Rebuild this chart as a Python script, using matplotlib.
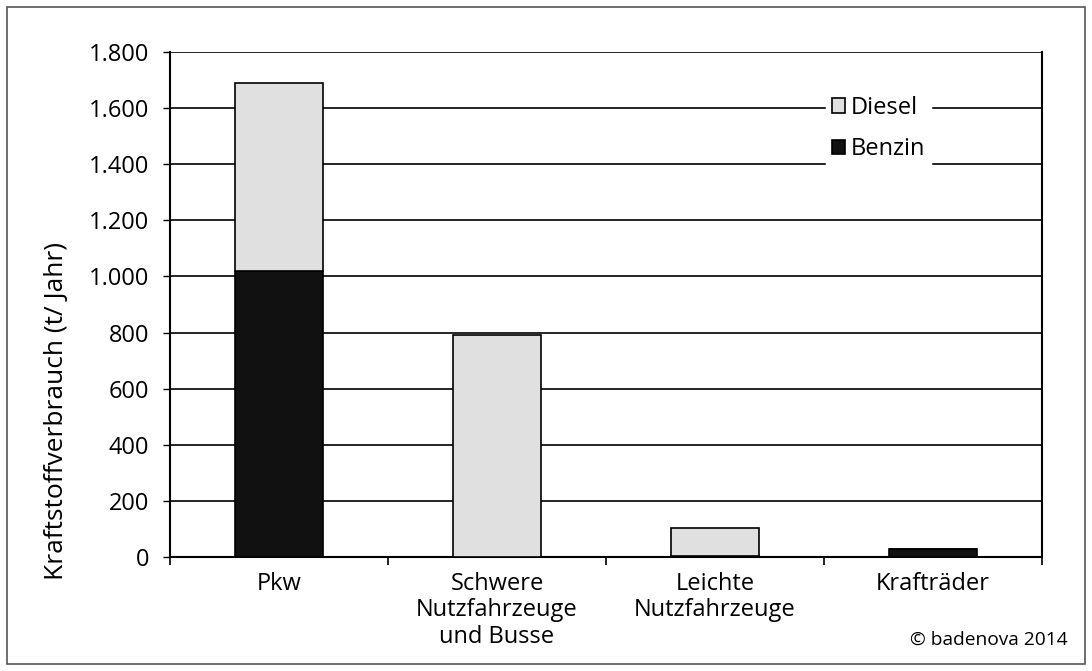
import numpy as np
import matplotlib.pyplot as plt
from matplotlib.patches import Rectangle
from matplotlib.ticker import FuncFormatter

# Data (t/Jahr)
categories = ["Pkw", "Schwere\nNutzfahrzeuge\nund Busse", "Leichte\nNutzfahrzeuge", "Krafträder"]
benzin = [1020, 0, 5, 28]
diesel = [670, 790, 100, 0]

plt.rcParams['font.family'] = ['Open Sans', 'DejaVu Sans']

fig = plt.figure(figsize=(10.92, 6.71), dpi=100)
ax = fig.add_axes([0.1557, 0.1699, 0.7985, 0.7526])

# outer frame around the whole figure
fig.patches.append(Rectangle((7 / 1092, 7 / 671), 1078 / 1092, 657 / 671,
                             transform=fig.transFigure, fill=False,
                             edgecolor='#555555', lw=1.2))

x = np.arange(len(categories))
w = 0.40
ax.bar(x, benzin, w, color='#111111', edgecolor='black', lw=1.2, label='Benzin', zorder=3)
ax.bar(x, diesel, w, bottom=benzin, color='#e0e0e0', edgecolor='black', lw=1.2,
       label='Diesel', zorder=3)

ax.set_xlim(-0.5, len(categories) - 0.5)
ax.set_ylim(0, 1800)
ax.set_yticks(np.arange(0, 1801, 200))
ax.yaxis.set_major_formatter(FuncFormatter(lambda v, p: f"{int(v):,}".replace(",", ".")))
ax.yaxis.grid(True, color='black', lw=1.2, zorder=0)
ax.set_axisbelow(True)

ax.set_xticks(x)
ax.set_xticklabels(categories, fontsize=17, linespacing=1.12)
ax.tick_params(axis='x', length=0, pad=11)
ax.set_xticks(np.arange(-0.5, len(categories)), minor=True)
ax.tick_params(axis='x', which='minor', length=6, width=1.2, direction='out')
ax.tick_params(axis='y', labelsize=17, length=5, width=1, pad=10)

for s in ['left', 'bottom', 'right']:
    ax.spines[s].set_linewidth(1.5)
ax.spines['top'].set_visible(False)

ax.set_ylabel("Kraftstoffverbrauch (t/ Jahr)", fontsize=19, fontweight='medium')
ax.yaxis.set_label_coords(-0.116, 0.289)

h, l = ax.get_legend_handles_labels()
leg = ax.legend(h[::-1], l[::-1], loc='upper left', bbox_to_anchor=(0.752, 0.925),
                fontsize=17, frameon=True, fancybox=False, edgecolor='white',
                handlelength=0.55, handleheight=0.55, handletextpad=0.25,
                labelspacing=0.75, borderpad=0.25, borderaxespad=0)
leg.get_frame().set_alpha(1)

fig.text(1068 / 1092, 1 - 640 / 671, "© badenova 2014", ha='right', va='center', fontsize=13.8)

fig.savefig("out.png", dpi=100)
